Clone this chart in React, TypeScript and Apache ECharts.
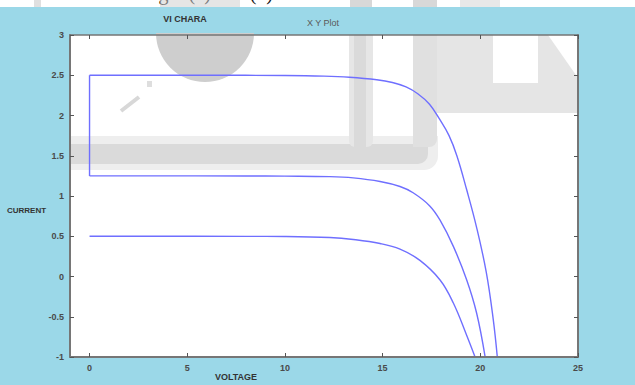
import React, { useEffect, useRef } from "react";
import * as echarts from "echarts";

// Curve at I ≈ 2.5 A
const voltHigh = [0, 6, 10, 12, 13.3, 14.7, 15.5, 16.2, 16.8, 17.4, 17.9, 18.4, 18.8, 19.3, 19.8, 20.3, 20.66, 20.87];
const currHigh = [2.5, 2.5, 2.497, 2.489, 2.475, 2.444, 2.41, 2.355, 2.27, 2.14, 1.96, 1.75, 1.5, 1.08, 0.62, 0.06, -0.53, -1];

// Curve at I ≈ 1.25 A
const voltMid = [0, 8, 10, 12.3, 13.5, 14.87, 15.89, 16.56, 17.4, 17.94, 18.62, 19.3, 19.81, 20.24];
const currMid = [1.25, 1.249, 1.247, 1.241, 1.225, 1.18, 1.118, 1.04, 0.88, 0.7, 0.374, -0.04, -0.453, -0.99];

// Curve at I ≈ 0.5 A
const voltLow = [0, 8, 10, 12.3, 13.5, 14.87, 15.89, 16.91, 17.94, 18.62, 19.3, 19.73];
const currLow = [0.5, 0.499, 0.497, 0.484, 0.46, 0.41, 0.34, 0.2, -0.043, -0.33, -0.73, -1];

// vertical connector at V = 0 between the 1.25 A and 2.5 A curves
const voltLink = [0, 0];
const currLink = [1.25, 2.5];

const xTicks = [0, 5, 10, 15, 20, 25];
const yMin = -1;
const yMax = 3;
const xMin = -1;
const xMax = 25;

const titleLeft = "VI CHARA";
const titlePlot = "X Y Plot";
const xName = "VOLTAGE";
const yName = "CURRENT";
const docText = "results are shown in fig 6 (a) and (b).";

export default function App() {
  const ref = useRef<HTMLDivElement>(null);

  useEffect(() => {
    if (!ref.current) return;
    document.body.style.margin = "0";
    const chart = echarts.init(ref.current, null, { renderer: "svg" });

    const pairs = (xs: number[], ys: number[]) => xs.map((v, i) => [v, ys[i]]);

    const lineColor = "#6f6fff";
    const axisColor = "#767676";
    const labelStyle = {
      color: "#4a4a4a",
      fontSize: 9,
      fontWeight: "bold" as const,
      fontFamily: "Liberation Sans, Arial, sans-serif",
    };
    const grey2 = "#e5e5e5";

    const curve = (name: string, data: number[][]) => ({
      type: "line",
      name,
      z: 4,
      data,
      showSymbol: false,
      smooth: 0.4,
      lineStyle: { color: lineColor, width: 1.4 },
    });

    chart.setOption({
      animation: false,
      backgroundColor: "#9bd8e8",
      grid: { left: 70, right: 57, top: 35, bottom: 28, containLabel: false },
      xAxis: [
        {
          type: "value",
          min: xMin,
          max: xMax,
          position: "bottom",
          z: 5,
          axisLine: { show: true, onZero: false, lineStyle: { color: axisColor, width: 2 } },
          axisTick: { show: true, inside: true, length: 4, customValues: xTicks, lineStyle: { color: "#555" } },
          axisLabel: { ...labelStyle, customValues: xTicks, margin: 6 },
          splitLine: { show: false },
        },
        {
          type: "value",
          min: xMin,
          max: xMax,
          position: "top",
          z: 5,
          axisLine: { show: true, onZero: false, lineStyle: { color: axisColor, width: 1.5 } },
          axisTick: { show: true, inside: true, length: 4, customValues: xTicks, lineStyle: { color: "#555" } },
          axisLabel: { show: false },
          splitLine: { show: false },
        },
      ],
      yAxis: [
        {
          type: "value",
          min: yMin,
          max: yMax,
          interval: 0.5,
          position: "left",
          z: 5,
          axisLine: { show: true, onZero: false, lineStyle: { color: axisColor, width: 2 } },
          axisTick: { show: true, inside: true, length: 4, lineStyle: { color: "#555" } },
          axisLabel: { ...labelStyle, margin: 6 },
          splitLine: { show: false },
        },
        {
          type: "value",
          min: yMin,
          max: yMax,
          interval: 0.5,
          position: "right",
          z: 5,
          axisLine: { show: true, onZero: false, lineStyle: { color: axisColor, width: 2 } },
          axisTick: { show: true, inside: true, length: 4, lineStyle: { color: "#555" } },
          axisLabel: { show: false },
          splitLine: { show: false },
        },
      ],
      graphic: [
        // white strip with the cropped document sentence
        { type: "rect", z: 0, shape: { x: 0, y: 0, width: 635, height: 7 }, style: { fill: "#ffffff" } },
        {
          type: "text",
          z: 0,
          x: 278,
          y: 3,
          style: {
            text: docText,
            fill: "#111",
            font: "20px 'Liberation Serif', 'Times New Roman', serif",
            textAlign: "right",
            textVerticalAlign: "bottom",
          },
        },
        { type: "rect", z: 0, shape: { x: 34, y: 0, width: 7, height: 7 }, style: { fill: "#d8d8d8", opacity: 0.8 } },
        { type: "rect", z: 0, shape: { x: 160, y: 0, width: 80, height: 7 }, style: { fill: "#d0d0d0", opacity: 0.55 } },
        { type: "rect", z: 0, shape: { x: 350, y: 0, width: 22, height: 7 }, style: { fill: "#d8d8d8" } },
        { type: "rect", z: 0, shape: { x: 413, y: 0, width: 24, height: 7 }, style: { fill: "#d8d8d8" } },
        { type: "rect", z: 0, shape: { x: 460, y: 0, width: 40, height: 7 }, style: { fill: "#e8e8e8" } },
        { type: "rect", z: 0, shape: { x: 0, y: 7, width: 635, height: 378 }, style: { fill: "#9bd8e8" } },
        // plot area
        { type: "rect", z: 0, shape: { x: 70, y: 35, width: 508, height: 322 }, style: { fill: "#ffffff" } },
        // faint watermark
        { type: "sector", z: 1, shape: { cx: 205, cy: 33, r: 49, r0: 0, startAngle: 0, endAngle: Math.PI, clockwise: true }, style: { fill: "#cecece" } },
        { type: "line", z: 1, shape: { x1: 121, y1: 111, x2: 139, y2: 97 }, style: { stroke: "#d8d8d8", lineWidth: 4 } },
        { type: "rect", z: 1, shape: { x: 147, y: 81, width: 5, height: 6 }, style: { fill: "#dedede" } },
        { type: "rect", z: 1, shape: { x: 70, y: 136, width: 368, height: 34, r: [0, 0, 14, 0] }, style: { fill: "#eeeeee" } },
        { type: "rect", z: 1, shape: { x: 70, y: 144, width: 358, height: 20, r: [0, 0, 10, 0] }, style: { fill: "#dadada" } },
        { type: "rect", z: 1, shape: { x: 349, y: 35, width: 24, height: 112, r: [0, 0, 6, 6] }, style: { fill: "#e6e6e6" } },
        { type: "rect", z: 1, shape: { x: 354, y: 35, width: 12, height: 112 }, style: { fill: "#dadada" } },
        { type: "rect", z: 1, shape: { x: 413, y: 35, width: 24, height: 112, r: [0, 0, 8, 0] }, style: { fill: "#e0e0e0" } },
        { type: "rect", z: 1, shape: { x: 437, y: 35, width: 56, height: 78 }, style: { fill: grey2 } },
        { type: "rect", z: 1, shape: { x: 493, y: 83, width: 85, height: 30 }, style: { fill: grey2 } },
        { type: "polygon", z: 1, shape: { points: [[538, 35], [548, 35], [578, 78], [578, 83], [538, 83]] }, style: { fill: grey2 } },
        // titles and axis names
        {
          type: "text",
          z: 6,
          x: 185,
          y: 19,
          style: { text: titleLeft, fill: "#333", font: "bold 9px 'Liberation Sans', Arial, sans-serif", textAlign: "center", textVerticalAlign: "middle" },
        },
        {
          type: "text",
          z: 6,
          x: 323,
          y: 23,
          style: { text: titlePlot, fill: "#5a5a5a", font: "9px 'Liberation Sans', Arial, sans-serif", textAlign: "center", textVerticalAlign: "middle" },
        },
        {
          type: "text",
          z: 6,
          x: 7,
          y: 210,
          style: { text: yName, fill: "#333", font: "bold 8px 'Liberation Sans', Arial, sans-serif", textAlign: "left", textVerticalAlign: "middle" },
        },
        {
          type: "text",
          z: 6,
          x: 236,
          y: 377,
          style: { text: xName, fill: "#333", font: "bold 9px 'Liberation Sans', Arial, sans-serif", textAlign: "center", textVerticalAlign: "middle" },
        },
      ],
      series: [
        curve("2.5 A", pairs(voltHigh, currHigh)),
        curve("1.25 A", pairs(voltMid, currMid)),
        curve("0.5 A", pairs(voltLow, currLow)),
        {
          type: "line",
          name: "link",
          z: 4,
          data: pairs(voltLink, currLink),
          showSymbol: false,
          lineStyle: { color: lineColor, width: 1.4 },
        },
      ],
    });

    return () => chart.dispose();
  }, []);

  return (
    <div
      ref={ref}
      style={{ position: "absolute", left: 0, top: 0, width: 635, height: 385 }}
    />
  );
}
